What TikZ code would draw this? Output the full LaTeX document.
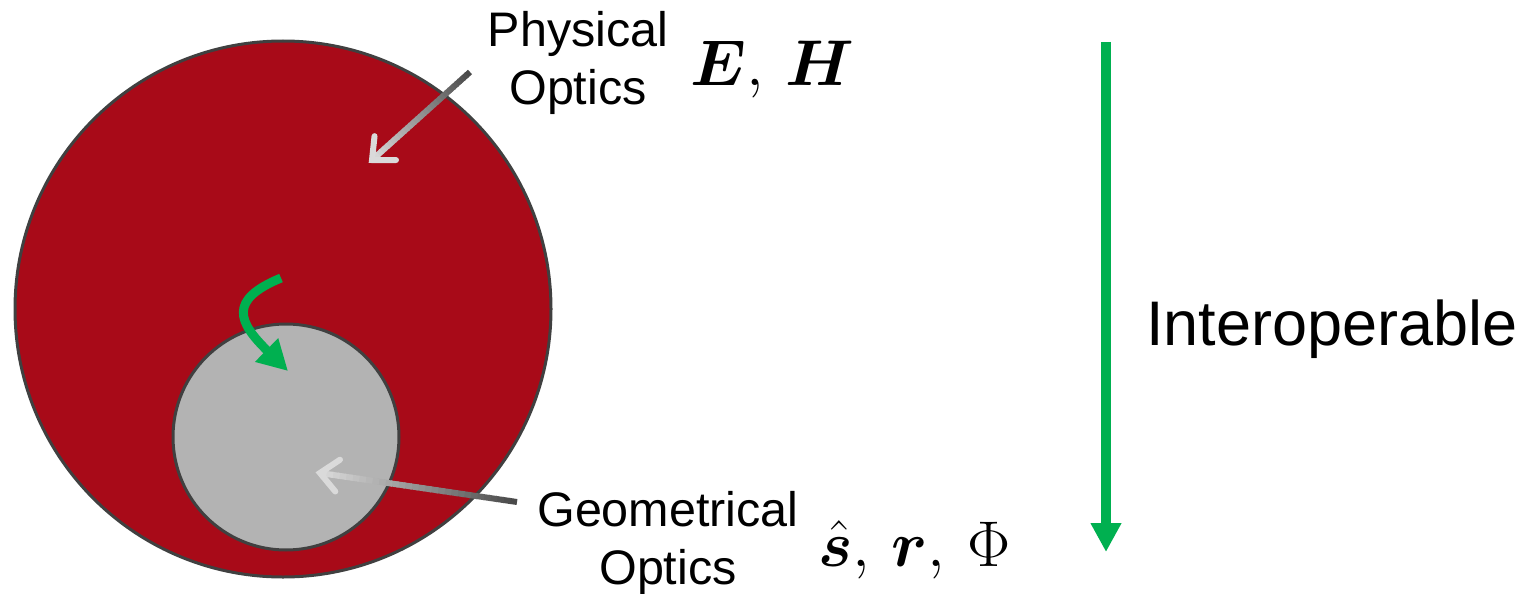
\documentclass[tikz,border=0pt]{standalone}
\usepackage{fontspec}
\setmainfont{Liberation Sans}
\usepackage{amsmath}
\usepackage{bm}
\usepackage{graphicx}
\usetikzlibrary{arrows.meta,calc}
\definecolor{discred}{HTML}{A80A18}
\definecolor{discgray}{HTML}{B3B3B3}
\definecolor{rimgray}{HTML}{404040}
\definecolor{arrgreen}{HTML}{00B050}
\definecolor{grdark}{HTML}{4A4A4A}
\definecolor{grlight}{HTML}{DADADA}
\newcommand{\bigmath}[1]{\scalebox{2.6}{$#1$}}
\tikzset{
  disc/.style={circle, draw=rimgray, line width=3, inner sep=0},
  lbl/.style={inner sep=0, align=center, font=\fontsize{48.5}{58}\selectfont},
  mth/.style={inner sep=0, font=\fontsize{24.88}{30}\selectfont},
  greenarrow/.style={draw=arrgreen, line width=10, -{Triangle[length=29pt,width=29pt]}},
}
\begin{document}
\begin{tikzpicture}[x=1pt,y=-1pt]
\useasboundingbox (0,0) rectangle (1529,594);
% discs
\node[disc, fill=discred, minimum size=536] (outer) at (283,309) {};
\node[disc, fill=discgray, minimum size=226] (inner) at (286,437) {};
% labels
\node[lbl] (phys) at (578,63) {Physical\\Optics};
\node[lbl] (geom) at (668,543) {Geometrical\\Optics};
\node[mth, anchor=base west] (eh) at (690,85) {\bigmath{\bm{E},\,\bm{H}}};
\node[mth, anchor=base west] (srp) at (818,566) {\bigmath{\bm{\hat{s}},\,\bm{r},\,\Phi}};
\node[inner sep=0, anchor=base west, font=\fontsize{63}{70}\selectfont] (inter) at (1146,345) {Interoperable};
% gradient pointer arrows
\coordinate (pa) at (470,72);
\coordinate (pb) at (372,160);
\coordinate (ga) at (517,502);
\coordinate (gb) at (320,473);
\foreach \s/\e in {pa/pb,ga/gb}{
  \foreach \i in {0,...,29}{
    \pgfmathsetmacro\t{\i/30}
    \pgfmathsetmacro\u{(\i+1.3)/30}
    \pgfmathsetmacro\c{100*\i/29}
    \draw[line width=6, color=grlight!\c!grdark] ($(\s)!\t!(\e)$) -- ($(\s)!{min(\u,1)}!(\e)$);
  }
  \draw[line width=6, grlight, line cap=round, line join=miter]
    ($(\e)!24pt!42:(\s)$) -- (\e) -- ($(\e)!24pt!-42:(\s)$);
}
% green curved arrow
\coordinate (cs) at (281,278);
\coordinate (ce) at (288,371);
\draw[draw=arrgreen, line width=9, -{Triangle[length=30pt,width=31pt]}]
  (cs) .. controls (228,300) and (238,322) .. (ce);
% interoperable arrow
\coordinate (it) at (1106,42);
\coordinate (ib) at (1106,552);
\draw[greenarrow] (it) -- (ib);
\end{tikzpicture}
\end{document}
